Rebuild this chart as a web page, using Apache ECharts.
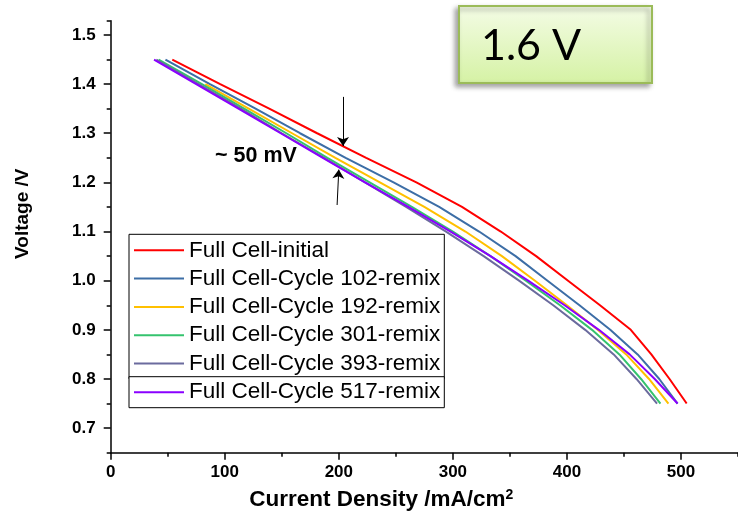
<!DOCTYPE html>
<html>
<head>
<meta charset="utf-8">
<script src="https://cdn.jsdelivr.net/npm/echarts@6/dist/echarts.min.js"></script>
<style>
  html, body { margin: 0; padding: 0; background: #ffffff; }
  #chart { width: 738px; height: 518px; }
</style>
</head>
<body>
<div id="chart"></div>
<script>
// Polarization curves: current density (mA/cm2) at each voltage step (V)
const seriesNames = [
  'Full Cell-initial',
  'Full Cell-Cycle 102-remix',
  'Full Cell-Cycle 192-remix',
  'Full Cell-Cycle 301-remix',
  'Full Cell-Cycle 393-remix',
  'Full Cell-Cycle 517-remix'
];
const voltages = [1.45, 1.40, 1.35, 1.30, 1.25, 1.20, 1.15, 1.10, 1.05, 1.00, 0.95, 0.90, 0.85, 0.80, 0.75];

const currentInitial  = [54, 96, 139, 181, 224, 268, 308, 342, 373, 401, 429, 456, 474, 490, 505];
const currentCycle102 = [48, 87, 127, 166, 206, 248, 288, 323, 355, 383, 411, 438, 462, 481, 497];
const currentCycle192 = [83, 121, 159, 197, 236, 275, 311, 343, 372, 400, 427, 452, 472, 489]; // starts at 1.40 V
const currentCycle301 = [42, 80, 117, 154, 190, 227, 264, 300, 333, 364, 394, 422, 446, 465, 482];
const currentCycle393 = [40, 77, 114, 150, 187, 223, 259, 294, 327, 358, 388, 416, 441, 461, 479];
const currentCycle517 = [38, 75, 112, 149, 186, 223, 261, 298, 333, 366, 398, 428, 455, 477, 497];

const Y_MIN = 0.65;
const Y_MAX = 1.529;
const xMajorTicks = [0, 100, 200, 300, 400, 500];
const xMinorTicks = [50, 150, 250, 350, 450, 550];
const yMajorTicks = [0.7, 0.8, 0.9, 1.0, 1.1, 1.2, 1.3, 1.4, 1.5];
const yMinorTicks = [Y_MIN, 0.75, 0.85, 0.95, 1.05, 1.15, 1.25, 1.35, 1.45, Y_MAX];

const seriesColors = ['#FF0000', '#3D6EA6', '#FFC000', '#35C36E', '#6B6B9E', '#8A00FF'];

// pair each current value with its voltage step (shorter runs end at 0.75 V)
function toPairs(currents) {
  const offset = voltages.length - currents.length;
  return currents.map((c, i) => [c, voltages[offset + i]]);
}

const allCurrents = [currentInitial, currentCycle102, currentCycle192, currentCycle301, currentCycle393, currentCycle517];

const FONT = 'Liberation Sans, Arial, Helvetica, sans-serif';

const chart = echarts.init(document.getElementById('chart'), null, { renderer: 'canvas' });

const series = allCurrents.map((cur, i) => ({
  name: seriesNames[i],
  type: 'line',
  xAxisIndex: 0,
  yAxisIndex: 0,
  data: toPairs(cur),
  symbol: 'none',
  showSymbol: false,
  lineStyle: { width: 2, color: seriesColors[i] },
  itemStyle: { color: seriesColors[i] },
  z: 2 + i
}));

// ~50 mV gap arrows
series[5].markLine = {
  silent: true,
  symbol: ['none', 'arrow'],
  symbolSize: 9,
  label: { show: false },
  lineStyle: { color: '#000', width: 1, type: 'solid' },
  emphasis: { disabled: true },
  data: [
    [{ coord: [203.7, 1.374] }, { coord: [203.7, 1.274] }],
    [{ coord: [198.5, 1.154] }, { coord: [200.0, 1.226] }]
  ]
};

const axisLineStyle = { color: '#000', width: 1.5 };
const tickLabelStyle = { fontSize: 17, fontWeight: 'bold', color: '#000', fontFamily: FONT };

const legendCommon = {
  orient: 'vertical',
  left: 129,
  itemWidth: 50, itemHeight: 14, itemGap: 5.3,
  backgroundColor: '#ffffff',
  borderColor: '#000', borderWidth: 1,
  selectedMode: false,
  itemStyle: { opacity: 0 },
  textStyle: { fontSize: 22.5, color: '#000', fontFamily: FONT, lineHeight: 22.5 }
};

const option = {
  animation: false,
  backgroundColor: '#ffffff',
  grid: { left: 110.7, top: 20.7, width: 632.5, height: 432, containLabel: false },
  xAxis: [
    {
      type: 'value', position: 'bottom', min: 0, max: 550,
      axisLine: { onZero: false, lineStyle: axisLineStyle },
      axisTick: { customValues: xMajorTicks, length: 7, lineStyle: axisLineStyle },
      axisLabel: { customValues: xMajorTicks, margin: 11, ...tickLabelStyle },
      splitLine: { show: false },
      name: 'Current Density /mA/cm{sup|2}',
      nameLocation: 'middle',
      nameGap: 35,
      nameTextStyle: {
        fontSize: 22.5, fontWeight: 'bold', color: '#000', fontFamily: FONT,
        padding: [0, 86, 0, 0],
        rich: { sup: { fontSize: 14, fontWeight: 'bold', color: '#000', fontFamily: FONT, padding: [0, 0, 11, 0] } }
      }
    },
    {
      type: 'value', position: 'bottom', min: 0, max: 550,
      axisLine: { show: false, onZero: false },
      axisTick: { customValues: xMinorTicks, length: 4, lineStyle: axisLineStyle },
      axisLabel: { show: false },
      splitLine: { show: false }
    }
  ],
  yAxis: [
    {
      type: 'value', position: 'left', min: Y_MIN, max: Y_MAX,
      axisLine: { onZero: false, lineStyle: axisLineStyle },
      axisTick: { customValues: yMajorTicks, length: 7, lineStyle: axisLineStyle },
      axisLabel: { customValues: yMajorTicks, margin: 15, formatter: v => v.toFixed(1), ...tickLabelStyle },
      splitLine: { show: false },
      name: 'Voltage /V',
      nameLocation: 'middle',
      nameRotate: 90,
      nameGap: 78,
      nameTextStyle: {
        fontSize: 19, fontWeight: 'bold', color: '#000', fontFamily: FONT,
        padding: [0, 0, 0, 46]
      }
    },
    {
      type: 'value', position: 'left', min: Y_MIN, max: Y_MAX,
      axisLine: { show: false, onZero: false },
      axisTick: { customValues: yMinorTicks, length: 4, lineStyle: axisLineStyle },
      axisLabel: { show: false },
      splitLine: { show: false }
    }
  ],
  legend: [
    Object.assign({}, legendCommon, {
      data: seriesNames.slice(0, 5),
      top: 234.3,
      padding: [4.5, 4, 3.8, 4]
    }),
    Object.assign({}, legendCommon, {
      data: seriesNames.slice(5),
      top: 376.7,
      padding: [4, 4, 4, 4]
    })
  ],
  graphic: [
    {
      type: 'text',
      left: 215, top: 145,
      style: { text: '~ 50 mV', font: 'bold 21.5px ' + FONT, fill: '#000' },
      z: 10
    },
    {
      type: 'rect',
      shape: { x: 459, y: 6, width: 193, height: 77 },
      style: {
        fill: new echarts.graphic.LinearGradient(0, 0, 0, 1, [
          { offset: 0, color: '#F4FCE6' },
          { offset: 1, color: '#D5F2A4' }
        ]),
        stroke: '#9BBB59',
        lineWidth: 2,
        shadowBlur: 5,
        shadowOffsetX: -3,
        shadowOffsetY: 3,
        shadowColor: 'rgba(0,0,0,0.35)'
      },
      z: 10
    },
    {
      type: 'text',
      x: 481, y: 46,
      style: {
        text: '1.6 V',
        font: '43px Lato, "Open Sans", sans-serif',
        fill: '#000',
        verticalAlign: 'middle',
        align: 'left'
      },
      z: 11
    }
  ],
  series: series
};

chart.setOption(option);
</script>
</body>
</html>
